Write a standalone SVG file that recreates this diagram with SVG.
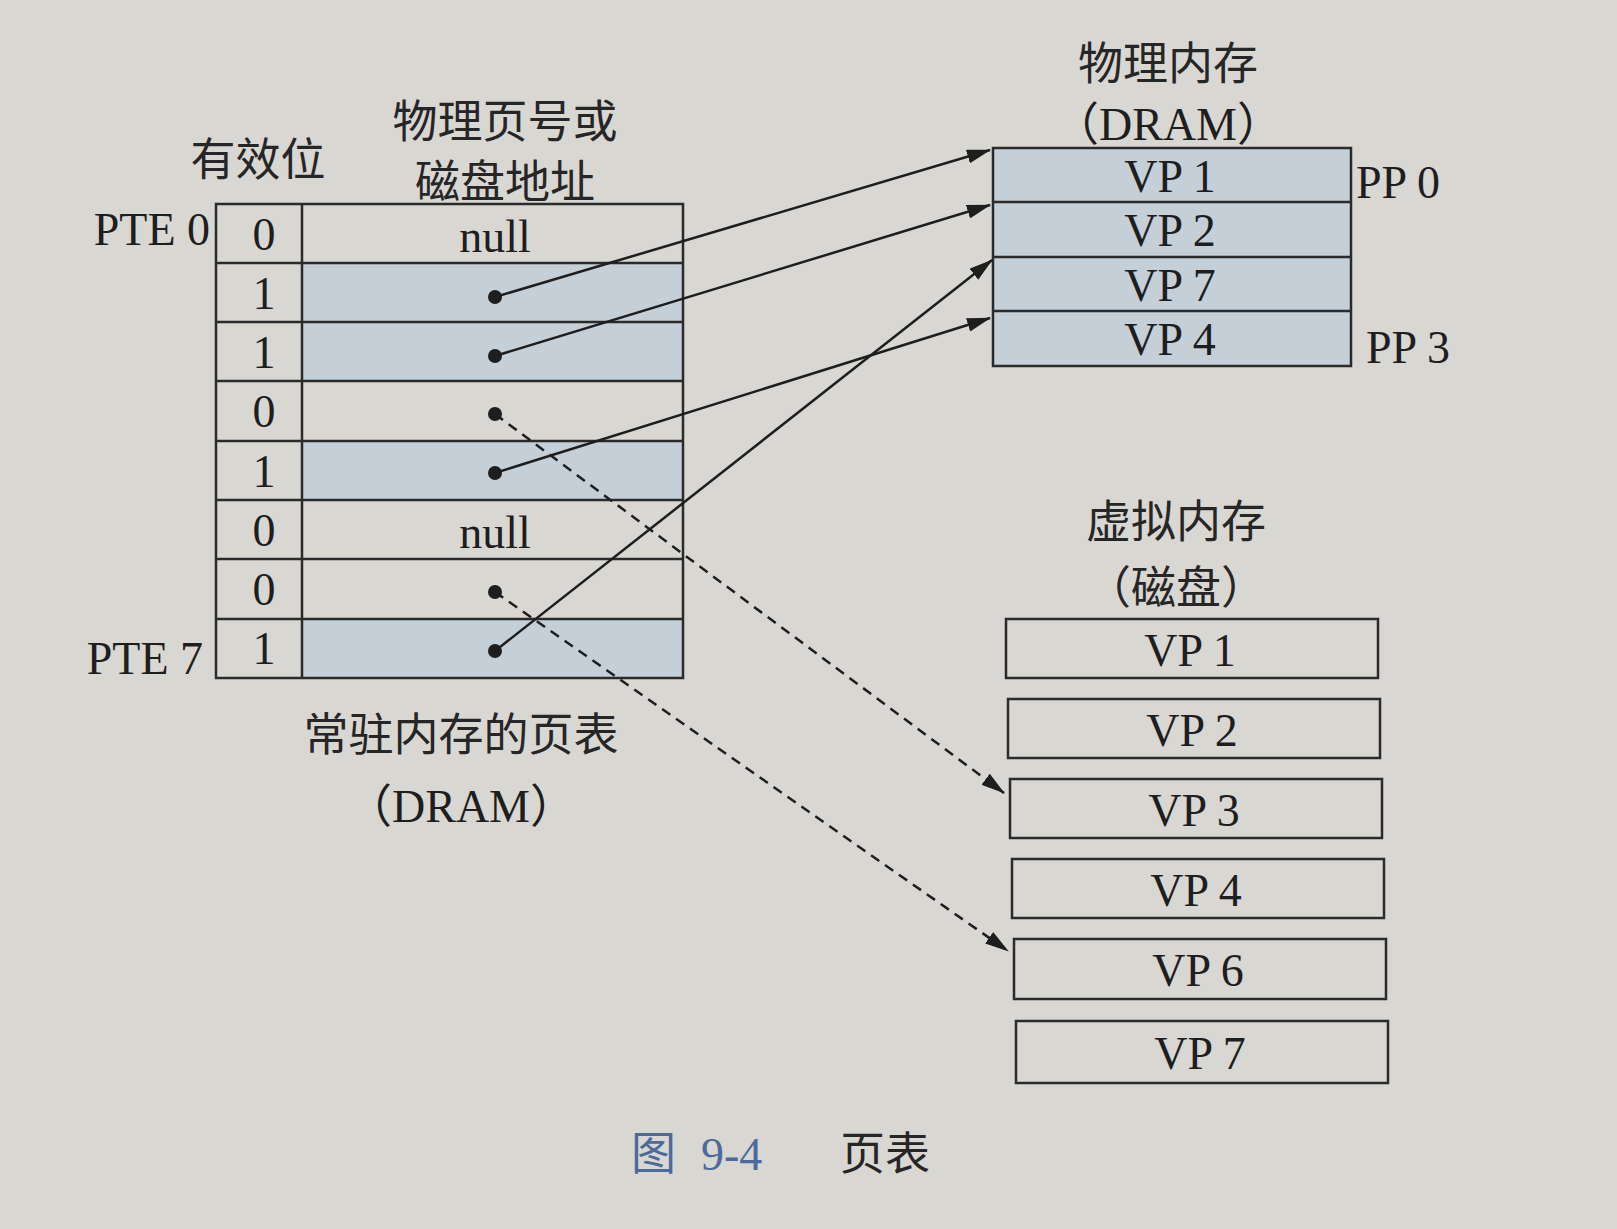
<svg xmlns="http://www.w3.org/2000/svg" width="1617" height="1229" viewBox="0 0 1617 1229">
<defs>
<style>
.bg{fill:#d9d7d2}
.ln{stroke:#2b2b2b;stroke-width:2.5;fill:none}
.sh{fill:#c4cfd8}
.box{fill:none;stroke:#2b2b2b;stroke-width:2.5}
.en{font-family:"Liberation Serif","Noto Sans CJK SC",serif;font-size:46px;fill:#1e1e1e}
.cn{font-family:"Noto Sans CJK SC",sans-serif;font-size:45px;fill:#262626}
.mid{text-anchor:middle;dominant-baseline:central}
.con{stroke:#1e1e1e;stroke-width:2.5;fill:none}
.dash{stroke-dasharray:10 7}
.dot{fill:#1e1e1e}
</style>
<marker id="ah" viewBox="0 0 24 14" refX="23" refY="7" markerWidth="24" markerHeight="14" markerUnits="userSpaceOnUse" orient="auto">
<path d="M0,0 L24,7 L0,14 Z" fill="#1e1e1e"/>
</marker>
</defs>
<rect class="bg" x="0" y="0" width="1617" height="1229"/>

<g id="page-table">
<rect class="sh" x="302" y="263" width="381" height="118"/>
<rect class="sh" x="302" y="441" width="381" height="59"/>
<rect class="sh" x="302" y="619" width="381" height="59"/>
<rect class="box" x="216" y="204" width="467" height="474"/>
<line class="ln" x1="302" y1="204" x2="302" y2="678"/>
<line class="ln" x1="216" y1="263" x2="683" y2="263"/>
<line class="ln" x1="216" y1="322" x2="683" y2="322"/>
<line class="ln" x1="216" y1="381" x2="683" y2="381"/>
<line class="ln" x1="216" y1="441" x2="683" y2="441"/>
<line class="ln" x1="216" y1="500" x2="683" y2="500"/>
<line class="ln" x1="216" y1="559" x2="683" y2="559"/>
<line class="ln" x1="216" y1="619" x2="683" y2="619"/>
<text class="en mid" x="264" y="234">0</text>
<text class="en mid" x="264" y="293">1</text>
<text class="en mid" x="264" y="352">1</text>
<text class="en mid" x="264" y="411">0</text>
<text class="en mid" x="264" y="471">1</text>
<text class="en mid" x="264" y="530">0</text>
<text class="en mid" x="264" y="589">0</text>
<text class="en mid" x="264" y="648">1</text>
<text class="en mid" x="495" y="236">null</text>
<text class="en mid" x="495" y="532">null</text>
<circle class="dot" cx="495" cy="297" r="7"/>
<circle class="dot" cx="495" cy="356" r="7"/>
<circle class="dot" cx="495" cy="414" r="7"/>
<circle class="dot" cx="495" cy="473" r="7"/>
<circle class="dot" cx="495" cy="592" r="7"/>
<circle class="dot" cx="495" cy="651" r="7"/>
</g>

<g id="page-table-labels">
<text class="cn mid" x="258" y="156">有效位</text>
<text class="cn mid" x="505" y="118">物理页号或</text>
<text class="cn mid" x="505" y="178">磁盘地址</text>
<text class="en" x="210" y="245" text-anchor="end">PTE 0</text>
<text class="en" x="203" y="674" text-anchor="end">PTE 7</text>
<text class="cn mid" x="461" y="731">常驻内存的页表</text>
<text class="en mid" x="461" y="806">（DRAM）</text>
</g>

<g id="physical-memory">
<text class="cn mid" x="1168" y="60">物理内存</text>
<text class="en mid" x="1168" y="124">（DRAM）</text>
<rect class="sh" x="993" y="148" width="358" height="218"/>
<rect class="box" x="993" y="148" width="358" height="218"/>
<line class="ln" x1="993" y1="202" x2="1351" y2="202"/>
<line class="ln" x1="993" y1="257" x2="1351" y2="257"/>
<line class="ln" x1="993" y1="311" x2="1351" y2="311"/>
<text class="en mid" x="1170" y="176">VP 1</text>
<text class="en mid" x="1170" y="230">VP 2</text>
<text class="en mid" x="1170" y="285">VP 7</text>
<text class="en mid" x="1170" y="339">VP 4</text>
<text class="en" x="1356" y="198">PP 0</text>
<text class="en" x="1366" y="363">PP 3</text>
</g>

<g id="virtual-memory">
<text class="cn mid" x="1176" y="518">虚拟内存</text>
<text class="cn mid" x="1176" y="584">（磁盘）</text>
<rect class="box" x="1006" y="619" width="372" height="59"/>
<rect class="box" x="1008" y="699" width="372" height="59"/>
<rect class="box" x="1010" y="779" width="372" height="59"/>
<rect class="box" x="1012" y="859" width="372" height="59"/>
<rect class="box" x="1014" y="939" width="372" height="60"/>
<rect class="box" x="1016" y="1021" width="372" height="62"/>
<text class="en mid" x="1190" y="650">VP 1</text>
<text class="en mid" x="1192" y="730">VP 2</text>
<text class="en mid" x="1194" y="810">VP 3</text>
<text class="en mid" x="1196" y="890">VP 4</text>
<text class="en mid" x="1198" y="970">VP 6</text>
<text class="en mid" x="1200" y="1053">VP 7</text>
</g>

<g id="connectors">
<line class="con" x1="495" y1="297" x2="990" y2="150" marker-end="url(#ah)"/>
<line class="con" x1="495" y1="356" x2="990" y2="205" marker-end="url(#ah)"/>
<line class="con" x1="495" y1="473" x2="990" y2="318" marker-end="url(#ah)"/>
<line class="con" x1="495" y1="651" x2="992" y2="260" marker-end="url(#ah)"/>
<line class="con dash" x1="495" y1="414" x2="1004" y2="793" marker-end="url(#ah)"/>
<line class="con dash" x1="495" y1="592" x2="1008" y2="951" marker-end="url(#ah)"/>
</g>

<g id="caption">
<text class="cn" x="631" y="1170" style="fill:#4c6a9c">图</text>
<text class="en" x="701" y="1170" style="fill:#4c6a9c">9-4</text>
<text class="cn" x="840" y="1170">页表</text>
</g>
</svg>
